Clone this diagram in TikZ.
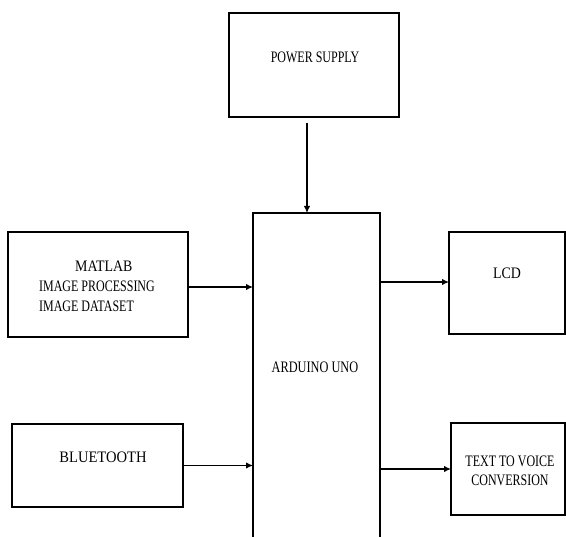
\documentclass[tikz,border=0pt]{standalone}
\usepackage{fontspec}
\setmainfont{Liberation Serif}
\usetikzlibrary{arrows.meta}
\newcommand{\sx}[2]{\scalebox{#1}[1]{#2}}
\begin{document}
\begin{tikzpicture}[x=1pt,y=-1pt,
  box/.style={draw,line width=1.3pt,inner sep=0pt,outer sep=0pt},
  txt/.style={font=\fontsize{16}{20}\selectfont,inner sep=0pt},
  arr/.style={line width=1.2pt,-{Latex[length=7pt,width=6.5pt]}}]
\useasboundingbox (0,0) rectangle (566,537);
% boxes
\node[box,minimum width=170pt,minimum height=104pt] (power) at (314,65) {};
\node[box,minimum width=180pt,minimum height=105pt] (matlab) at (98,284.5) {};
\node[box,minimum width=171pt,minimum height=83pt] (bt) at (97.5,465.5) {};
\node[box,minimum width=116pt,minimum height=102pt] (lcd) at (507,283) {};
\node[box,minimum width=114pt,minimum height=92pt] (ttv) at (508,469) {};
\node[inner sep=0pt,outer sep=0pt,minimum width=127pt,minimum height=324pt] (ard) at (316.5,375) {};
\draw[line width=1.3pt] (ard.south west) -- (ard.north west) -- (ard.north east) -- (ard.south east);
% texts
\node[txt] (powertxt) at (315,57) {\sx{0.75}{POWER SUPPLY}};
\node[txt,align=left] (matlabtxt) at (97,286) {\hspace*{36pt}\sx{0.87}{MATLAB}\\\sx{0.75}{IMAGE PROCESSING}\\\sx{0.75}{IMAGE DATASET}};
\node[txt] (bttxt) at (103,457) {\sx{0.91}{BLUETOOTH}};
\node[txt] (lcdtxt) at (507,273) {\sx{0.87}{LCD}};
\node[txt,align=center,font=\fontsize{16}{19}\selectfont] (ttvtxt) at (510,470.5) {\sx{0.75}{TEXT TO VOICE}\\\sx{0.75}{CONVERSION}};
\node[txt] (ardtxt) at (315,367) {\sx{0.77}{ARDUINO UNO}};
% connectors
\coordinate (pstart) at ([xshift=-7pt,yshift=-6pt]power.south);
\draw[arr] (pstart) -- (pstart |- ard.north);
\coordinate (mstart) at ([yshift=-2.5pt]matlab.east);
\draw[arr] (mstart) -- (mstart -| ard.west);
\draw[arr] (bt.east) -- (bt.east -| ard.west);
\coordinate (lstart) at ([yshift=1pt]lcd.west -| ard.east);
\draw[arr] (lstart) -- (lstart -| lcd.west);
\draw[arr] (ttv.west -| ard.east) -- (ttv.west);
\end{tikzpicture}
\end{document}
